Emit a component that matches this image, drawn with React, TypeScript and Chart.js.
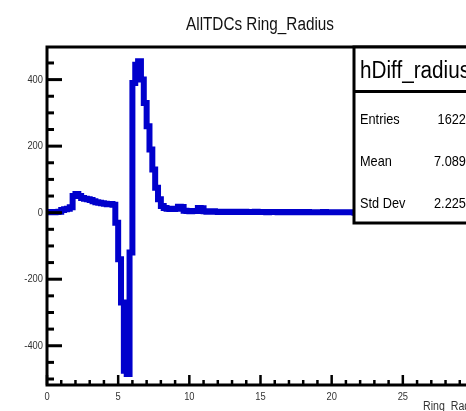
import React, { useEffect, useRef } from "react";
import { Chart, registerables } from "chart.js";

Chart.register(...registerables);

// ---- text ----
const TITLE = "AllTDCs Ring_Radius";
const X_TITLE = "Ring_Radius";
const HIST_NAME = "hDiff_radius";
const STAT_LABELS = ["Entries", "Mean", "Std Dev"];
const STAT_VALUES = ["16223", "7.0895", "2.2254"];

// ---- axes ----
const X_MIN = 0;
const X_MAX = 30;
const BIN_WIDTH = 0.2;
const Y_MIN = -518;
const Y_MAX = 498;
const X_MAJOR_TICKS = [0, 5, 10, 15, 20, 25, 30];
const X_MAJOR_LABELS = ["0", "5", "10", "15", "20", "25", "30"];
const Y_MAJOR_TICKS = [-400, -200, 0, 200, 400];
const Y_MAJOR_LABELS = ["-400", "-200", "0", "200", "400"];
const X_MINOR_STEP = 1;
const Y_MINOR_STEP = 50;

// ---- histogram bin contents (bin width 0.2, from 0 to 30) ----
const BIN_CONTENTS = [
  1, 2, 1, 2, 3, 8, 10, 12, 16, 50,
  56, 50, 44, 42, 40, 38, 34, 31, 30, 28,
  27, 25, 26, 24, -30, -140, -270, -475, -485, -120,
  390, 445, 455, 400, 330, 260, 190, 130, 75, 40,
  20, 14, 12, 11, 11, 12, 18, 17, 6, 5,
  4, 5, 5, 14, 13, 4, 3, 3, 4, 3,
  2, 3, 3, 2, 3, 2, 3, 2, 2, 3,
  2, 2, 2, 3, 2, 2, 2, 1, 2, 2,
  2, 1, 2, 2, 1, 2, 1, 1, 2, 1,
  1, 2, 1, 1, 1, 1, 1, 2, 1, 1,
  1, 1, 1, 1, 1, 1, 1, 1, 0, 1,
  1, 1, 0, 1, 1, 0, 1, 1, 0, 1,
  0, 1, 0, 0, 1, 0, 0, 1, 0, 0,
  0, 1, 0, 0, 0, 0, 0, 0, 1, 0,
  0, 0, 0, 0, 0, 0, 0, 0, 0, 0,
];

const FONT = '"Liberation Sans", Arial, sans-serif';

function drawText(
  ctx: CanvasRenderingContext2D,
  text: string,
  x: number,
  y: number,
  size: number,
  align: CanvasTextAlign,
  baseline: CanvasTextBaseline = "alphabetic",
  color = "#111",
  squeeze = 0.85
) {
  ctx.save();
  ctx.translate(x, y);
  ctx.scale(squeeze, 1);
  ctx.font = `${size}px ${FONT}`;
  ctx.fillStyle = color;
  ctx.textAlign = align;
  ctx.textBaseline = baseline;
  ctx.fillText(text, 0, 0);
  ctx.restore();
}

const rootStyle = {
  id: "rootStyle",
  afterDatasetsDraw(chart: any) {
    const ctx: CanvasRenderingContext2D = chart.ctx;
    const { left, right, top, bottom } = chart.chartArea;
    const xs = chart.scales.x;
    const ys = chart.scales.y;
    ctx.save();
    ctx.strokeStyle = "#000";
    ctx.lineCap = "butt";

    // y ticks (inside frame)
    ctx.lineWidth = 3;
    for (let v = Math.ceil(Y_MIN / Y_MINOR_STEP) * Y_MINOR_STEP; v <= Y_MAX; v += Y_MINOR_STEP) {
      const py = ys.getPixelForValue(v);
      const major = Y_MAJOR_TICKS.includes(v);
      ctx.beginPath();
      ctx.moveTo(left, py);
      ctx.lineTo(left + (major ? 15 : 7), py);
      ctx.stroke();
    }
    // x ticks
    ctx.lineWidth = 2.5;
    for (let v = X_MIN; v <= X_MAX; v += X_MINOR_STEP) {
      const px = xs.getPixelForValue(v);
      const major = X_MAJOR_TICKS.includes(v);
      ctx.beginPath();
      ctx.moveTo(px, bottom);
      ctx.lineTo(px, bottom - (major ? 10 : 5));
      ctx.stroke();
    }
    // frame
    ctx.lineWidth = 3;
    ctx.strokeRect(left, top, right - left, bottom - top);

    // tick labels
    Y_MAJOR_TICKS.forEach((v, i) => {
      drawText(ctx, Y_MAJOR_LABELS[i], left - 4, ys.getPixelForValue(v), 11, "right", "middle", "#333");
    });
    X_MAJOR_TICKS.forEach((v, i) => {
      drawText(ctx, X_MAJOR_LABELS[i], xs.getPixelForValue(v), bottom + 15, 11, "center", "alphabetic", "#333");
    });

    // titles
    drawText(ctx, TITLE, 260, 30, 18, "center", "alphabetic", "#111");
    drawText(ctx, X_TITLE, 423, 410, 12.5, "left", "alphabetic", "#333");

    // stats box
    const bx = 354;
    const by = top;
    const bw = 130;
    const bh = 176;
    ctx.fillStyle = "#fff";
    ctx.fillRect(bx, by, bw, bh);
    ctx.lineWidth = 3;
    ctx.strokeRect(bx, by, bw, bh);
    ctx.beginPath();
    ctx.moveTo(bx, by + 44.5);
    ctx.lineTo(bx + bw, by + 44.5);
    ctx.stroke();
    drawText(ctx, HIST_NAME, bx + 6, by + 30.5, 23, "left", "alphabetic", "#000", 0.9);
    const rowBase = [124, 166, 208];
    STAT_LABELS.forEach((lab, i) => {
      drawText(ctx, lab, bx + 6, rowBase[i], 15, "left", "alphabetic", "#000");
      drawText(ctx, STAT_VALUES[i], 473, rowBase[i], 15, "right", "alphabetic", "#000");
    });
    ctx.restore();
  },
};

export default function App() {
  const ref = useRef<HTMLCanvasElement | null>(null);
  useEffect(() => {
    if (!ref.current) return;
    const points = BIN_CONTENTS.map((v, i) => ({ x: X_MIN + i * BIN_WIDTH, y: v }));
    points.push({ x: X_MAX, y: BIN_CONTENTS[BIN_CONTENTS.length - 1] });
    const chart = new Chart(ref.current, {
      type: "line",
      data: {
        datasets: [
          {
            data: points,
            borderColor: "#0000cc",
            borderWidth: 6,
            pointRadius: 0,
            stepped: true,
            fill: false,
            tension: 0,
            borderJoinStyle: "miter",
          },
        ],
      },
      options: {
        animation: false,
        responsive: false,
        events: [],
        layout: { padding: { left: 47, top: 47, right: 16, bottom: 26 } },
        scales: {
          x: { type: "linear", min: X_MIN, max: X_MAX, display: false },
          y: { type: "linear", min: Y_MIN, max: Y_MAX, display: false },
        },
        plugins: {
          legend: { display: false },
          tooltip: { enabled: false },
          title: { display: false },
        },
      },
      plugins: [rootStyle],
    });
    return () => chart.destroy();
  }, []);
  return (
    <div
      style={{
        position: "fixed",
        left: 0,
        top: 0,
        width: 466,
        height: 411,
        overflow: "hidden",
        background: "#fff",
      }}
    >
      <canvas ref={ref} width={490} height={411} style={{ display: "block", width: 490, height: 411 }} />
    </div>
  );
}
